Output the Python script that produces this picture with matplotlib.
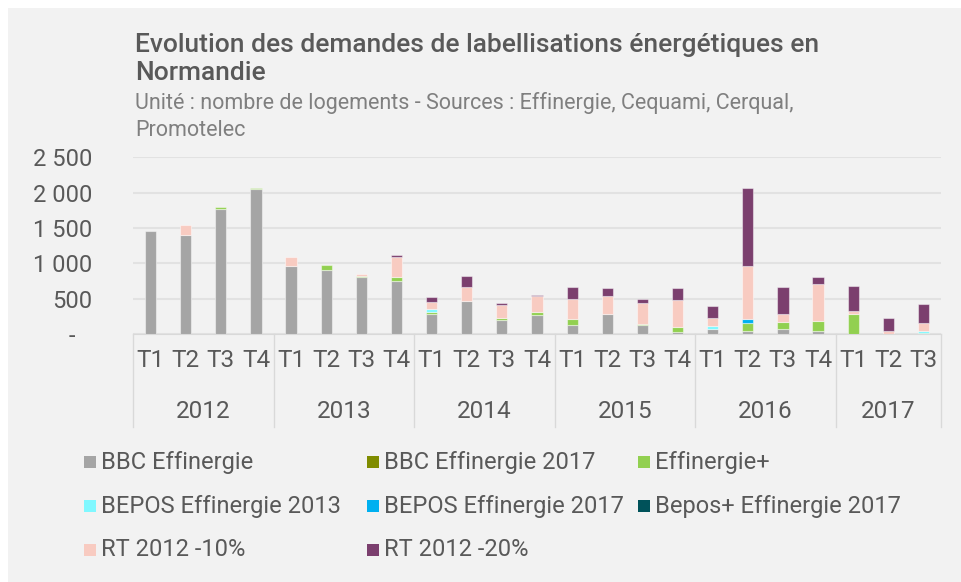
import matplotlib
matplotlib.use('Agg')
import matplotlib.pyplot as plt
from matplotlib.patches import Rectangle
import numpy as np

plt.rcParams['font.family'] = ['Roboto', 'DejaVu Sans']

years = ['2012', '2013', '2014', '2015', '2016', '2017']
quarters_per_year = [4, 4, 4, 4, 4, 3]
quarter_labels = ['T1', 'T2', 'T3', 'T4'] * 5 + ['T1', 'T2', 'T3']

ytick_values = [0, 500, 1000, 1500, 2000, 2500]
ytick_labels = ['-   ', '500', '1 000', '1 500', '2 000', '2 500']

series_names = ['BBC Effinergie', 'BBC Effinergie 2017', 'Effinergie+',
                'BEPOS Effinergie 2013', 'BEPOS Effinergie 2017', 'Bepos+ Effinergie 2017',
                'RT 2012 -10%', 'RT 2012 -20%']
colors = ['#a5a5a5', '#7f8c00', '#92d050', '#80f8ff', '#00b0f0', '#00525a',
          '#f8cbc1', '#7b3f6e']

bbc = [1460, 1400, 1770, 2050, 965, 900, 800, 755, 278, 470, 204, 273,
       125, 287, 134, 32, 70, 47, 70, 38, 0, 0, 0]
bbc_2017 = [0] * 22 + [10]
eff_plus = [0, 0, 25, 20, 0, 75, 22, 50, 40, 0, 23, 37,
            88, 0, 14, 70, 0, 113, 104, 150, 277, 0, 0]
bepos_2013 = [0] * 8 + [37] + [0] * 7 + [47] + [0] * 5 + [28]
bepos_2017 = [0] * 17 + [56] + [0] * 5
bepos_plus = [0] * 23
rt_10 = [0, 140, 0, 0, 120, 0, 28, 285, 93, 200, 185, 227,
         278, 250, 296, 380, 113, 750, 107, 525, 47, 47, 117]
rt_20 = [0, 0, 0, 0, 0, 0, 0, 33, 80, 155, 23, 19,
         171, 111, 51, 172, 169, 1093, 380, 89, 351, 183, 267]

all_series = [bbc, bbc_2017, eff_plus, bepos_2013, bepos_2017, bepos_plus, rt_10, rt_20]

W, H = 962, 582
txt = '#595959'
fig = plt.figure(figsize=(W / 100, H / 100), dpi=100, facecolor='white')
fig.add_artist(Rectangle((8 / W, 0), 1, 1 - 8 / H, transform=fig.transFigure,
                         facecolor='#f2f2f2', edgecolor='none', zorder=-10))

ax = fig.add_axes([133 / W, 1 - 334 / H, 808 / W, (334 - 157.3) / H])
ax.set_facecolor('none')

x = np.arange(len(quarter_labels))
bottom = np.zeros(len(x))
for vals, col in zip(all_series, colors):
    v = np.array(vals, dtype=float)
    m = v > 0
    ax.bar(x[m], v[m], width=0.32, bottom=bottom[m], color=col,
           edgecolor=(1, 1, 1, 0.45), linewidth=0.8, zorder=3)
    bottom += v

ax.set_xlim(-0.5, len(x) - 0.5)
ax.set_ylim(0, 2500)
ax.set_yticks(ytick_values, ytick_labels)
ax.tick_params(axis='y', length=0, pad=29, labelsize=17, labelcolor=txt)
ax.set_xticks(x, quarter_labels)
ax.tick_params(axis='x', length=0, pad=11, labelsize=17.5, labelcolor=txt)
ax.yaxis.grid(True, color='#e2e2e2', linewidth=1.5)
ax.set_axisbelow(True)
for s in ['top', 'left', 'right']:
    ax.spines[s].set_visible(False)
ax.spines['bottom'].set_color('#d9d9d9')

# year row of the category axis
trans = ax.get_xaxis_transform()
hpx = 334 - 157.3
edges = np.concatenate([[0], np.cumsum(quarters_per_year)]) - 0.5
for i, yr in enumerate(years):
    ax.text((edges[i] + edges[i + 1]) / 2, -(412 - 334) / hpx, yr, transform=trans,
            ha='center', va='center', fontsize=17.5, color=txt)
for e in edges:
    ax.plot([e, e], [0, -(427 - 334) / hpx], transform=trans, clip_on=False,
            color='#d9d9d9', linewidth=1)

fig.text(135 / W, 1 - 45 / H, 'Evolution des demandes de labellisations énergétiques en',
         fontsize=19, fontweight='medium', color=txt, va='center')
fig.text(135 / W, 1 - 73 / H, 'Normandie', fontsize=19, fontweight='medium',
         color=txt, va='center')
fig.text(135 / W, 1 - 103 / H, 'Unité : nombre de logements - Sources : Effinergie, Cequami, Cerqual,',
         fontsize=15.5, color='#7f7f7f', va='center')
fig.text(135 / W, 1 - 130 / H, 'Promotelec', fontsize=15.5, color='#7f7f7f', va='center')

# legend, 3 columns
col_x = [84, 367, 638]
row_y = [462, 506, 550]
for k, (name, col) in enumerate(zip(series_names, colors)):
    r, c = divmod(k, 3)
    fig.add_artist(Rectangle((col_x[c] / W, 1 - (row_y[r] + 6) / H), 12 / W, 12 / H,
                             transform=fig.transFigure, facecolor=col, edgecolor='none'))
    fig.text((col_x[c] + 17) / W, 1 - row_y[r] / H, name, fontsize=17, color=txt, va='center')

fig.savefig('out.png', dpi=100)
